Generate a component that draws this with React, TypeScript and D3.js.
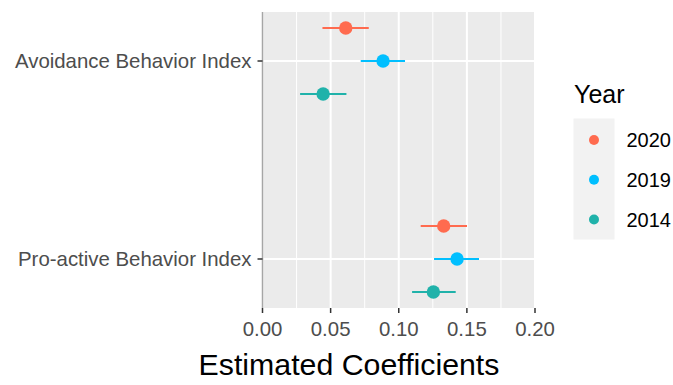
import React from 'react';
import * as d3 from 'd3';

// data
const indices = ['Avoidance Behavior Index', 'Pro-active Behavior Index'];
const years = ['2020', '2019', '2014'];
const estimate = {
  'Avoidance Behavior Index': [0.0611, 0.0885, 0.0445],
  'Pro-active Behavior Index': [0.133, 0.1428, 0.1254],
};
const lower = {
  'Avoidance Behavior Index': [0.044, 0.0721, 0.0276],
  'Pro-active Behavior Index': [0.1161, 0.1259, 0.1098],
};
const upper = {
  'Avoidance Behavior Index': [0.078, 0.1046, 0.0616],
  'Pro-active Behavior Index': [0.1501, 0.1589, 0.1418],
};
const xTicks = [0, 0.05, 0.1, 0.15, 0.2];
const xMinor = [0.025, 0.075, 0.125, 0.175];
const colors = ['#FF6B4F', '#00BFFF', '#20B2AA'];

const width = 673;
const height = 385;
const panel = { left: 262.5, right: 535, top: 12, bottom: 308 };
const font = 'Liberation Sans, Arial, Helvetica, sans-serif';

export default function App() {
  const x = d3.scaleLinear().domain([0, 0.2]).range([panel.left, panel.right]);
  const y = d3.scalePoint().domain(indices).range([panel.top, panel.bottom]).padding(0.2475);
  const dodge = d3.scalePoint().domain(years).range([-y.step() * 0.167, y.step() * 0.167]);
  const color = d3.scaleOrdinal<string, string>().domain(years).range(colors);
  const fmt = d3.format('.2f');

  const rows = indices.flatMap(idx =>
    years.map((yr, i) => ({
      idx, yr,
      est: estimate[idx][i],
      lo: lower[idx][i],
      hi: upper[idx][i],
    }))
  );

  const legendY = d3.scalePoint().domain(years).range([140, 219.5]);

  return (
    <svg width={width} height={height} style={{ position: 'absolute', left: 0, top: 0, background: '#fff' }}>
      <rect x={panel.left} y={panel.top} width={panel.right - panel.left} height={panel.bottom - panel.top} fill="#EBEBEB" />
      {xMinor.map(t => (
        <line key={'m' + t} x1={x(t)} x2={x(t)} y1={panel.top} y2={panel.bottom} stroke="#fff" strokeWidth={1} />
      ))}
      {xTicks.map(t => (
        <line key={'g' + t} x1={x(t)} x2={x(t)} y1={panel.top} y2={panel.bottom} stroke="#fff" strokeWidth={2} />
      ))}
      {indices.map(idx => (
        <line key={idx} x1={panel.left} x2={panel.right} y1={y(idx)} y2={y(idx)} stroke="#fff" strokeWidth={2} />
      ))}
      <line x1={x(0)} x2={x(0)} y1={panel.top} y2={panel.bottom} stroke="#A6A6A6" strokeWidth={1.5} />

      {rows.map(d => {
        const cy = (y(d.idx) as number) + (dodge(d.yr) as number);
        return (
          <g key={d.idx + d.yr}>
            <line x1={x(d.lo)} x2={x(d.hi)} y1={cy} y2={cy} stroke={color(d.yr)} strokeWidth={2} />
            <circle cx={x(d.est)} cy={cy} r={6.7} fill={color(d.yr)} />
          </g>
        );
      })}

      {/* y axis */}
      {indices.map(idx => (
        <g key={'yt' + idx}>
          <line x1={panel.left - 5} x2={panel.left} y1={y(idx)} y2={y(idx)} stroke="#333" strokeWidth={1.5} />
          <text x={panel.left - 11} y={y(idx)} dy="0.36em" textAnchor="end" fontFamily={font} fontSize={20.4} fill="#4D4D4D">
            {idx}
          </text>
        </g>
      ))}

      {/* x axis */}
      {xTicks.map(t => (
        <g key={'xt' + t}>
          <line x1={x(t)} x2={x(t)} y1={panel.bottom} y2={panel.bottom + 5} stroke="#333" strokeWidth={1.5} />
          <text x={x(t)} y={336} textAnchor="middle" fontFamily={font} fontSize={20.4} fill="#4D4D4D">
            {fmt(t)}
          </text>
        </g>
      ))}
      <text x={349} y={375} textAnchor="middle" fontFamily={font} fontSize={30.3} fill="#000">
        Estimated Coefficients
      </text>

      {/* legend */}
      <text x={574} y={103} fontFamily={font} fontSize={25} fill="#000">Year</text>
      <rect x={573.5} y={118.5} width={41} height={121} fill="#F2F2F2" />
      {years.map(yr => (
        <g key={'lg' + yr}>
          <circle cx={594} cy={legendY(yr)} r={5} fill={color(yr)} />
          <text x={626.5} y={legendY(yr)} dy="0.36em" fontFamily={font} fontSize={20} fill="#000">{yr}</text>
        </g>
      ))}
    </svg>
  );
}
